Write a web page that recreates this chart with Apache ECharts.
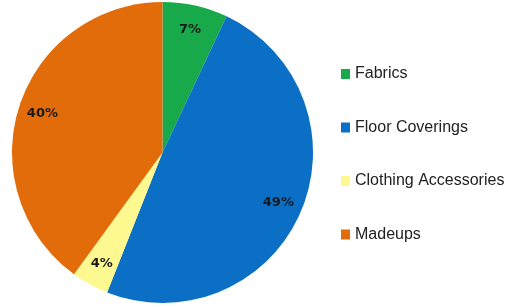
<!DOCTYPE html>
<html><head><meta charset="utf-8">
<script src="https://cdn.jsdelivr.net/npm/echarts@6/dist/echarts.min.js"></script>
<style>html,body{margin:0;padding:0;background:#fff}#c{width:507px;height:307px}</style>
</head><body><div id="c"></div>
<script>
const categories = ['Fabrics', 'Floor Coverings', 'Clothing Accessories', 'Madeups'];
const values = [7, 49, 4, 40];
const colors = ['#17a94a', '#0b6fc5', '#fdf890', '#e36c0a'];

const data = categories.map((n, i) => ({ name: n, value: values[i], itemStyle: { color: colors[i] } }));
const labelData = categories.map((n, i) => ({ name: n, value: values[i] }));

const chart = echarts.init(document.getElementById('c'), null, { renderer: 'canvas' });
chart.setOption({
  animation: false,
  backgroundColor: '#fff',
  legend: {
    orient: 'vertical',
    left: 336,
    top: 61,
    itemWidth: 9,
    itemHeight: 10,
    itemGap: 37.5,
    icon: 'rect',
    data: categories,
    textStyle: { fontFamily: 'Liberation Sans', fontSize: 16, color: '#222' }
  },
  series: [
    {
      type: 'pie',
      center: [162.5, 152.5],
      radius: [0, 150.5],
      startAngle: 90,
      clockwise: true,
      label: { show: false },
      labelLine: { show: false },
      itemStyle: { borderWidth: 0 },
      data: data,
      silent: true
    },
    {
      type: 'pie',
      center: [162.5, 152.5],
      radius: [96, 150.5],
      startAngle: 90,
      clockwise: true,
      silent: true,
      legendHoverLink: false,
      itemStyle: { color: 'rgba(0,0,0,0)', borderWidth: 0 },
      label: {
        show: true,
        position: 'inside',
        formatter: p => p.value + '%',
        fontFamily: 'DejaVu Sans',
        fontWeight: 'bold',
        fontSize: 13,
        color: '#1a1a1a'
      },
      labelLine: { show: false },
      data: labelData
    }
  ]
});
</script></body></html>
